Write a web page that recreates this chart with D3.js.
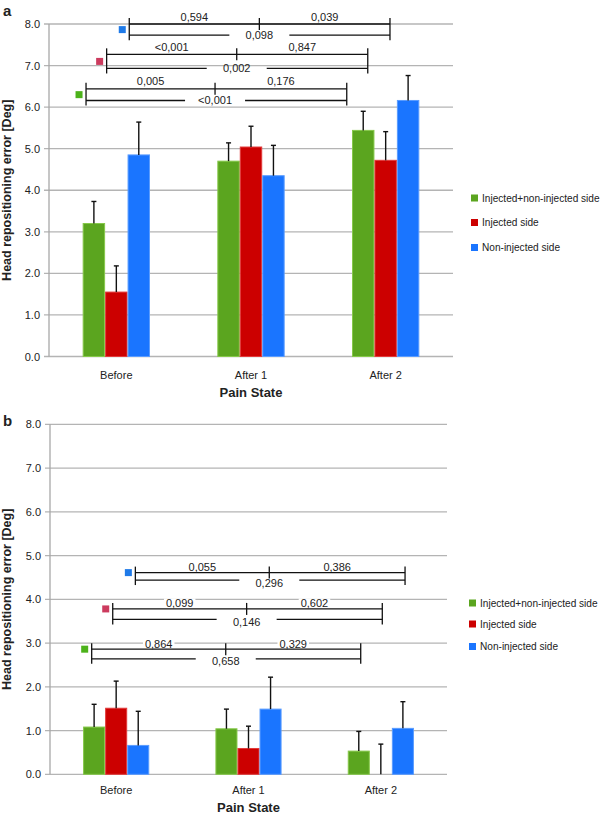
<!DOCTYPE html>
<html>
<head>
<meta charset="utf-8">
<script src="https://cdn.jsdelivr.net/npm/d3@7"></script>
<style>
  html, body { margin: 0; padding: 0; background: #fff; }
  text { font-family: "Liberation Sans", Arial, Helvetica, sans-serif; fill: #222; }
</style>
</head>
<body>
<svg id="chart" width="602" height="815"></svg>
<script>
// ---------- DATA ----------
const categories = ["Before", "After 1", "After 2"];
const seriesNames = ["Injected+non-injected side", "Injected side", "Non-injected side"];
const yTicks = [0, 1, 2, 3, 4, 5, 6, 7, 8];

// Panel a: means and error (upper SD) per series, by category
const aGreen = [3.20, 4.70, 5.44];
const aGreenErr = [0.53, 0.44, 0.46];
const aRed = [1.55, 5.04, 4.72];
const aRedErr = [0.63, 0.50, 0.69];
const aBlue = [4.85, 4.35, 6.16];
const aBlueErr = [0.79, 0.73, 0.60];

// Panel b
const bGreen = [1.08, 1.04, 0.53];
const bGreenErr = [0.52, 0.45, 0.45];
const bRed = [1.51, 0.59, 0.00];
const bRedErr = [0.62, 0.51, 0.69];
const bBlue = [0.66, 1.49, 1.05];
const bBlueErr = [0.78, 0.73, 0.61];

// Significance brackets (x in category-index units, y in degrees)
const aBrackets = [
  { series: 2, yTop: 8.00, yBot: 7.73, x: [0.096, 1.062, 2.032], labels: ["0,594", "0,039", "0,098"] },
  { series: 1, yTop: 7.27, yBot: 6.93, x: [-0.072, 0.894, 1.867], labels: ["<0,001", "0,847", "0,002"] },
  { series: 0, yTop: 6.44, yBot: 6.16, x: [-0.225, 0.733, 1.711], labels: ["0,005", "0,176", "<0,001"] }
];
const bBrackets = [
  { series: 2, yTop: 4.61, yBot: 4.44, x: [0.145, 1.157, 2.183], labels: ["0,055", "0,386", "0,296"] },
  { series: 1, yTop: 3.78, yBot: 3.54, x: [-0.026, 0.986, 2.011], labels: ["0,099", "0,602", "0,146"] },
  { series: 0, yTop: 2.86, yBot: 2.64, x: [-0.185, 0.828, 1.848], labels: ["0,864", "0,329", "0,658"] }
];

// ---------- STYLE ----------
const barColors = ["#5ba51f", "#cc0000", "#1a75ff"];
const barStroke = ["#86c84a", "#e23a3a", "#5a9cff"];
const markerColors = ["#4cb21a", "#cc3b5e", "#1f7ae8"];

const svg = d3.select("#chart");

function drawPanel(cfg) {
  const g = svg.append("g");
  const L = cfg.left, T = cfg.top, W = cfg.width, H = cfg.height;
  const x = d3.scaleBand().domain(categories).range([L, L + W]).paddingInner(0).paddingOuter(0);
  const xi = d3.scaleLinear().domain([-0.5, categories.length - 0.5]).range([L, L + W]);
  const inner = d3.scaleBand().domain([0, 1, 2]).range([x.bandwidth() * 0.25, x.bandwidth() * 0.75]);
  const y = d3.scaleLinear().domain([0, 8]).range([T + H, T]);
  const fmt = d3.format(".1f");

  // gridlines
  g.append("g").selectAll("line").data(yTicks).join("line")
    .attr("x1", L - 5).attr("x2", L + W)
    .attr("y1", d => y(d)).attr("y2", d => y(d))
    .attr("stroke", "#b4b4b4").attr("stroke-width", 1.3);
  // y axis line
  g.append("line").attr("x1", L).attr("x2", L).attr("y1", y(8)).attr("y2", y(0))
    .attr("stroke", "#a8a8a8").attr("stroke-width", 1.3);
  // tick labels
  g.append("g").selectAll("text").data(yTicks).join("text")
    .attr("x", L - 9).attr("y", d => y(d) + 4)
    .attr("text-anchor", "end").attr("font-size", 11)
    .text(d => fmt(d));

  // bars
  const series = cfg.series;
  series.forEach((s, si) => {
    g.append("g").selectAll("rect").data(s.values).join("rect")
      .attr("x", (d, i) => x(categories[i]) + inner(si) + 0.5)
      .attr("width", inner.bandwidth() - 1)
      .attr("y", d => y(d))
      .attr("height", d => Math.max(0, y(0) - y(d)))
      .attr("fill", barColors[si])
      .attr("stroke", d => d > 0 ? barStroke[si] : "none")
      .attr("stroke-width", 1);
  });
  // error bars
  series.forEach((s, si) => {
    const eg = g.append("g").attr("stroke", "#111").attr("stroke-width", 1.4);
    s.values.forEach((v, i) => {
      const cx = x(categories[i]) + inner(si) + inner.bandwidth() / 2;
      eg.append("line").attr("x1", cx).attr("x2", cx).attr("y1", y(v)).attr("y2", y(v + s.err[i]));
      eg.append("line").attr("x1", cx - 2.5).attr("x2", cx + 2.5).attr("y1", y(v + s.err[i])).attr("y2", y(v + s.err[i]));
    });
  });

  // brackets
  cfg.brackets.forEach(b => {
    const xl = xi(b.x[0]), xm = xi(b.x[1]), xr = xi(b.x[2]);
    const yt = y(b.yTop), yb = y(b.yBot);
    const bg = g.append("g");
    const topPos = [(xl + xm) / 2, (xm + xr) / 2];
    const tg = bg.append("g");
    const lg = bg.append("g").attr("stroke", "#111").attr("stroke-width", 1.3).attr("fill", "none");
    lg.append("line").attr("x1", xl).attr("x2", xl).attr("y1", yt - 6).attr("y2", yb + 5);
    lg.append("line").attr("x1", xr).attr("x2", xr).attr("y1", yt - 6).attr("y2", yb + 5);
    lg.append("line").attr("x1", xm).attr("x2", xm).attr("y1", yt - 6).attr("y2", yt + 6);
    lg.append("line").attr("x1", xl).attr("x2", xr).attr("y1", yt).attr("y2", yt);
    lg.append("line").attr("x1", xl).attr("x2", xm - 30).attr("y1", yb).attr("y2", yb);
    lg.append("line").attr("x1", xm + 30).attr("x2", xr).attr("y1", yb).attr("y2", yb);
    topPos.forEach((px, k) => {
      const t = bg.append("text").attr("x", px).attr("y", yt - cfg.topLabelGap)
        .attr("text-anchor", "middle").attr("font-size", 11).text(b.labels[k]);
      const bb = t.node().getBBox();
      tg.append("rect").attr("x", bb.x - 2).attr("width", bb.width + 4)
        .attr("y", yt - cfg.topLabelGap - 9).attr("height", 8.5).attr("fill", "#fff");
    });
    bg.append("text").attr("x", xm).attr("y", yb + cfg.botLabelOff)
      .attr("text-anchor", "middle").attr("font-size", 11).text(b.labels[2]);
    // marker
    bg.append("rect").attr("x", xl - 7 - 3.5).attr("y", (cfg.markerMid ? (yt + yb) / 2 : yt) - 3.5)
      .attr("width", 7).attr("height", 7).attr("fill", markerColors[b.series]);
  });

  // x labels
  g.append("g").selectAll("text").data(categories).join("text")
    .attr("x", d => x(d) + x.bandwidth() / 2).attr("y", T + H + cfg.catOff)
    .attr("text-anchor", "middle").attr("font-size", 11).text(d => d);
  g.append("text").attr("x", L + W / 2).attr("y", T + H + cfg.titleOff)
    .attr("text-anchor", "middle").attr("font-size", 13).attr("font-weight", "bold").text("Pain State");
  // y title
  g.append("text").attr("transform", `translate(${cfg.yTitleX},${T + H / 2}) rotate(-90)`)
    .attr("text-anchor", "middle").attr("font-size", 12.5).attr("font-weight", "bold")
    .text("Head repositioning error [Deg]");
  // panel letter
  g.append("text").attr("x", 3).attr("y", cfg.letterY).attr("font-size", 15).attr("font-weight", "bold").text(cfg.letter);

  // legend
  seriesNames.forEach((n, i) => {
    const ly = cfg.legendY[i];
    g.append("rect").attr("x", cfg.legendX - 3).attr("y", ly - 3).attr("width", 7).attr("height", 7).attr("fill", barColors[i]);
    g.append("text").attr("x", cfg.legendX + 8).attr("y", ly + 4).attr("font-size", 10.1).text(n);
  });
}

drawPanel({
  letter: "a", letterY: 16,
  left: 49, top: 24, width: 404, height: 332.5,
  series: [
    { values: aGreen, err: aGreenErr },
    { values: aRed, err: aRedErr },
    { values: aBlue, err: aBlueErr }
  ],
  brackets: aBrackets, topLabelGap: 3.5, botLabelOff: 4, markerMid: true,
  catOff: 22, titleOff: 40, yTitleX: 11,
  legendX: 474, legendY: [197.5, 222, 247]
});

drawPanel({
  letter: "b", letterY: 426,
  left: 50, top: 424.3, width: 397, height: 350,
  series: [
    { values: bGreen, err: bGreenErr },
    { values: bRed, err: bRedErr },
    { values: bBlue, err: bBlueErr }
  ],
  brackets: bBrackets, topLabelGap: 1.5, botLabelOff: 6.5, markerMid: false,
  catOff: 19.5, titleOff: 38, yTitleX: 11,
  legendX: 472, legendY: [602.5, 623.5, 646]
});
</script>
</body>
</html>
